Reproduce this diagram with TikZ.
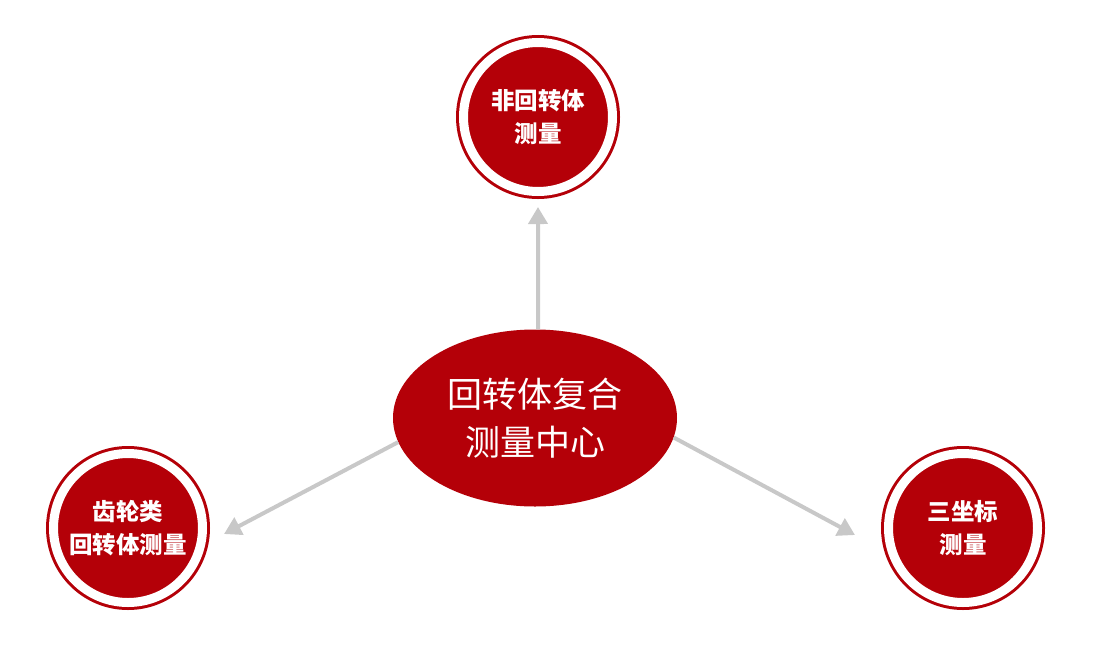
\documentclass[tikz,border=0pt]{standalone}
\usepackage{fontspec}
\setmainfont{Noto Sans CJK SC}
\usetikzlibrary{shapes.geometric, arrows.meta, positioning}
\definecolor{hubred}{RGB}{180,0,8}
\definecolor{linkgray}{RGB}{200,200,200}
\tikzset{
>={Triangle[length=17pt, width=19pt]}, % makes the arrow heads solid triangles
hub/.style={ellipse, fill=hubred, minimum width=284pt, minimum height=177pt, inner sep=0pt, text=white, align=center, font=\fontsize{35}{48}\selectfont}, % the centre ellipse
ring/.style={circle, fill=hubred, draw=hubred, double=white, double distance=9pt, line width=3pt, minimum size=149pt, inner sep=0pt, text=white, align=center, font=\bfseries\fontsize{23.5}{33}\selectfont}, % disc with white gap and thin outer ring
link/.style={->, draw=linkgray, line width=4pt}, % grey connectors
}

\begin{document}
\begin{tikzpicture}[x=1pt, y=-1pt]
      \useasboundingbox (0,0) rectangle (1098,667);
      \node[hub] (hub) at (535,418) {回转体复合\\测量中心};
      \node[ring, above of=hub, node distance=301pt, xshift=3pt] (top) {非回转体\\测量};
      \node[ring, left of=hub, node distance=407pt, yshift=-110pt] (lft) {齿轮类\\回转体测量};
      \node[ring, right of=hub, node distance=428pt, yshift=-110pt] (rgt) {三坐标\\测量};

      \coordinate[yshift=-90pt] (tipT) at (top);
      \coordinate[xshift=96pt, yshift=-6pt] (tipL) at (lft);
      \coordinate[xshift=-108pt, yshift=-7pt] (tipR) at (rgt);

      \draw[link] (hub.88) -- (tipT);
      \draw[link] (hub.190) -- (tipL);
      \draw[link] (hub.352) -- (tipR);
    \end{tikzpicture}
\end{document}
